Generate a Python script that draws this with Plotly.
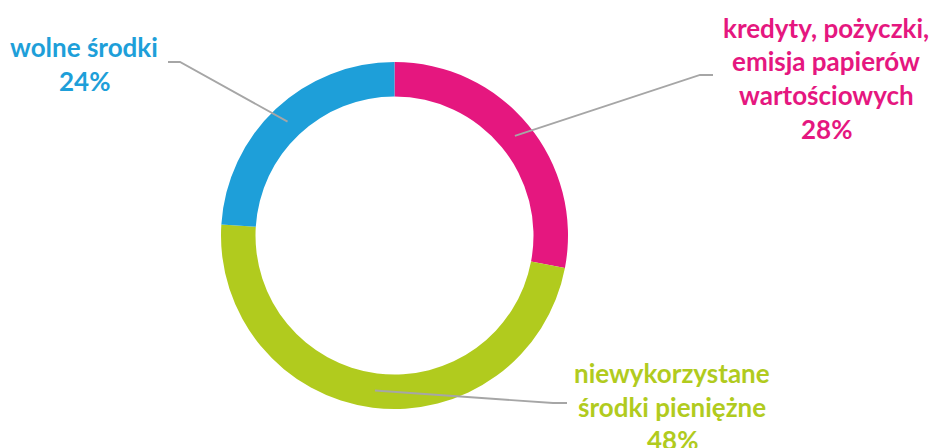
import math
import plotly.graph_objects as go

# ---- data ----
categories = ["kredyty, pożyczki,<br>emisja papierów<br>wartościowych",
              "niewykorzystane<br>środki pieniężne",
              "wolne środki"]
values = [28, 48, 24]
colors = ["#E5177F", "#B1CB1E", "#1E9FD9"]

W, H = 931, 448
CX, CY, R_OUT, R_IN = 394.5, 235.5, 173.5, 139.0

# label layout (pixels): elbow point, end of horizontal, text center x, first line y
label_layout = [
    dict(elbow=(700, 75), end=(713, 75), tx=826, ty=28),
    dict(elbow=(553, 403), end=(567, 403), tx=672, ty=373),
    dict(elbow=(180, 62), end=(168, 62), tx=84, ty=47),
]
LINE_STEP = 33.5
FONT = "Lato"
FSIZE = 26

def px(x):
    return x / W

def py(y):
    return 1 - y / H

fig = go.Figure(go.Pie(
    labels=[c.replace("<br>", " ") for c in categories],
    values=values,
    marker=dict(colors=colors, line=dict(width=0)),
    hole=R_IN / R_OUT,
    sort=False,
    direction="clockwise",
    rotation=0,
    textinfo="none",
    hoverinfo="label+percent",
    domain=dict(x=[px(CX - R_OUT), px(CX + R_OUT)],
                y=[py(CY + R_OUT), py(CY - R_OUT)]),
    showlegend=False,
))

total = sum(values)
cum = 0
shapes, annotations = [], []
rmid = (R_OUT + R_IN) / 2
for cat, v, col, lay in zip(categories, values, colors, label_layout):
    mid = (cum + v / 2) / total * 2 * math.pi
    cum += v
    ax = CX + rmid * math.sin(mid)
    ay = CY - rmid * math.cos(mid)
    ex, ey = lay["elbow"]
    fx, fy = lay["end"]
    path = f"M {px(ax)},{py(ay)} L {px(ex)},{py(ey)} L {px(fx)},{py(fy)}"
    shapes.append(dict(type="path", xref="paper", yref="paper", path=path,
                       line=dict(color="#A6A6A6", width=1.8)))
    lines = cat.split("<br>") + [f"{round(v / total * 100)}%"]
    for i, t in enumerate(lines):
        annotations.append(dict(
            x=px(lay["tx"]), y=py(lay["ty"] + i * LINE_STEP),
            xref="paper", yref="paper", text=f"<b>{t}</b>", showarrow=False,
            xanchor="center", yanchor="middle",
            font=dict(family=FONT, size=FSIZE, color=col)))

fig.update_layout(
    width=W, height=H,
    margin=dict(l=0, r=0, t=0, b=0),
    paper_bgcolor="white", plot_bgcolor="white",
    shapes=shapes, annotations=annotations,
)
fig.write_html("out.html",
               config={"displayModeBar": False},
               post_script="document.body.style.margin='0';document.body.style.overflow='hidden';")
